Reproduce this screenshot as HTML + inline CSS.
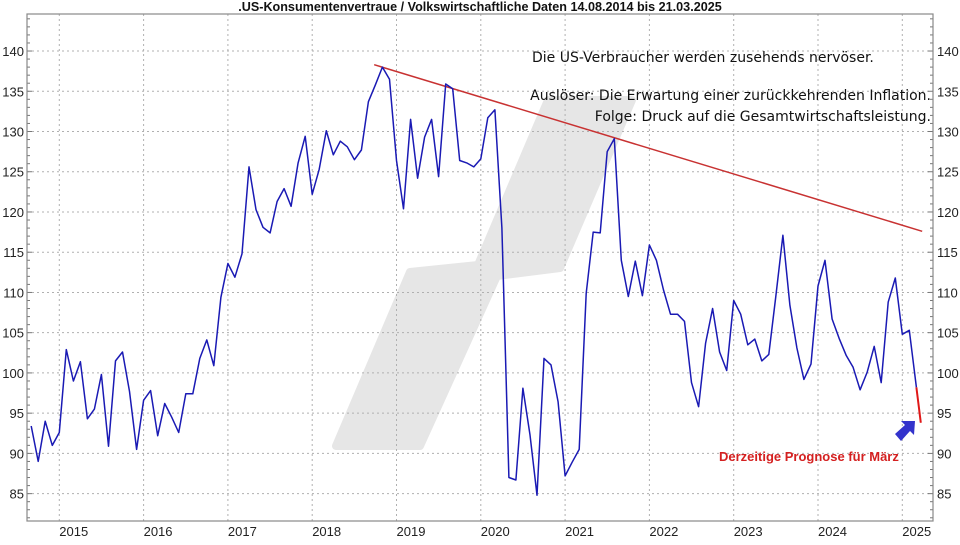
<!DOCTYPE html>
<html><head><meta charset="utf-8"><style>
body{margin:0;background:#fff;width:960px;height:540px;overflow:hidden}
svg text{font-family:"Liberation Sans",Arial,sans-serif}
</style></head><body>
<svg id="chart" width="960" height="540" viewBox="0 0 960 540" xmlns="http://www.w3.org/2000/svg">
<text x="480" y="11" text-anchor="middle" font-size="12.6" font-weight="bold" fill="#111">.US-Konsumentenvertraue / Volkswirtschaftliche Daten 14.08.2014 bis 21.03.2025</text>
<polygon points="336,446 420,446 497,276 560,268 632,100 548,100 478,265 410,272" fill="#e6e6e6" stroke="#e6e6e6" stroke-width="8" stroke-linejoin="round"/>
<g id="grid"></g>
<g id="axes"></g>
<g id="series"></g>
<g font-size="14" fill="#111">
<text x="532" y="62" style="font-family:'DejaVu Sans',sans-serif">Die US-Verbraucher werden zusehends nervöser.</text>
<text x="931" y="100" text-anchor="end" style="font-family:'DejaVu Sans',sans-serif">Auslöser: Die Erwartung einer zurückkehrenden Inflation.</text>
<text x="931" y="121" text-anchor="end" style="font-family:'DejaVu Sans',sans-serif">Folge: Druck auf die Gesamtwirtschaftsleistung.</text>
</g>
<text x="719" y="461" font-size="13" font-weight="bold" fill="#d42020">Derzeitige Prognose für März</text>
<polygon points="895,434 905,425 901,421 915,421 914,435 910,431 901,441" fill="#3333cc"/>
</svg>
<script>
const yTicks=[85,90,95,100,105,110,115,120,125,130,135,140];
const xYears=[2015,2016,2017,2018,2019,2020,2021,2022,2023,2024,2025];
const startYear=2014, startMonth=8;
const values=[
93.4,89.0,94.0,91.0,92.6,
102.9,99.0,101.4,94.3,95.5,99.8,90.9,101.5,102.6,97.7,90.5,96.6,
97.8,92.2,96.2,94.5,92.6,97.4,97.4,101.8,104.1,100.9,109.4,113.6,
111.9,114.8,125.6,120.3,118.1,117.4,121.3,122.9,120.7,126.1,129.4,122.2,
125.3,130.1,127.1,128.8,128.1,126.5,127.7,133.7,135.8,138.0,136.5,126.4,
120.4,131.5,124.2,129.3,131.5,124.4,135.9,135.3,126.4,126.1,125.6,126.6,
131.7,132.7,118.0,87.0,86.7,98.1,92.3,84.8,101.8,101.0,96.4,87.2,
88.9,90.5,109.9,117.5,117.4,127.5,129.1,114.0,109.5,113.9,109.6,115.9,
114.0,110.3,107.3,107.3,106.4,98.8,95.8,103.7,108.0,102.6,100.3,109.0,
107.3,103.5,104.2,101.5,102.3,109.5,117.1,108.4,103.1,99.2,101.1,110.8,
114.0,106.7,104.3,102.2,100.7,97.9,100.1,103.3,98.8,108.8,111.8,104.8,
105.3,98.2];
const forecastDate=[2025.167,2025.22];
const forecastValues=[98.2,93.8];
const trendDates=[2018.735,2025.236];
const trendValues=[138.3,117.6];

const L=27,R=933,T=14,B=521;
const yMin=81.6,yMax=144.6;
const X0=59.3,PX=84.3;
const sx=d=>X0+(d-2015)*PX;
const sy=v=>B-(v-yMin)/(yMax-yMin)*(B-T);
const NS="http://www.w3.org/2000/svg";
function mk(tag,attrs,parent){const e=document.createElementNS(NS,tag);for(const k in attrs)e.setAttribute(k,attrs[k]);parent.appendChild(e);return e;}
const grid=document.getElementById('grid'),axes=document.getElementById('axes'),series=document.getElementById('series');
yTicks.forEach(v=>{
 const g=mk('line',{x1:L,x2:R,y1:sy(v),y2:sy(v),stroke:'#b0b0b0','stroke-dasharray':'2,3'},grid);
 
 
 const t1=mk('text',{x:24,y:sy(v)+5,'text-anchor':'end','font-size':'13',fill:'#222'},axes);t1.textContent=v;
 
 
 const t2=mk('text',{x:937,y:sy(v)+5,'font-size':'13',fill:'#222'},axes);t2.textContent=v;
 
 
});
for(let v=82;v<=144;v++){
 const len=(v%5===0)?5:3;
 mk('line',{x1:L,x2:L+len,y1:sy(v),y2:sy(v),stroke:'#777'},axes);
 mk('line',{x1:R-len,x2:R,y1:sy(v),y2:sy(v),stroke:'#777'},axes);
}
xYears.forEach(y=>{
 const g=mk('line',{x1:sx(y),x2:sx(y),y1:T,y2:B,stroke:'#b0b0b0','stroke-dasharray':'2,3'},grid);
 
 
 const t=mk('text',{x:sx(y),y:536,'font-size':'13',fill:'#222'},axes);t.textContent=y;
 
 
});
const fr=mk('rect',{x:L,y:T,width:R-L,height:B-T,fill:'none',stroke:'#888','stroke-width':'1.2'},axes);


const tr=mk('line',{x1:sx(trendDates[0]),y1:sy(trendValues[0]),x2:sx(trendDates[1]),y2:sy(trendValues[1]),stroke:'#c83232','stroke-width':'1.5'},series);


const pts=values.map((v,i)=>{const d=startYear+(startMonth+i)/12;return sx(d).toFixed(1)+','+sy(v).toFixed(1);}).join(' ');
const pl=mk('polyline',{points:pts,fill:'none',stroke:'#1a1ab4','stroke-width':'1.5','stroke-linejoin':'round'},series);


const fp=forecastValues.map((v,i)=>sx(forecastDate[i]).toFixed(1)+','+sy(v).toFixed(1)).join(' ');
const fl=mk('polyline',{points:fp,fill:'none',stroke:'#e01818','stroke-width':'2'},series);


</script>
</body></html>
